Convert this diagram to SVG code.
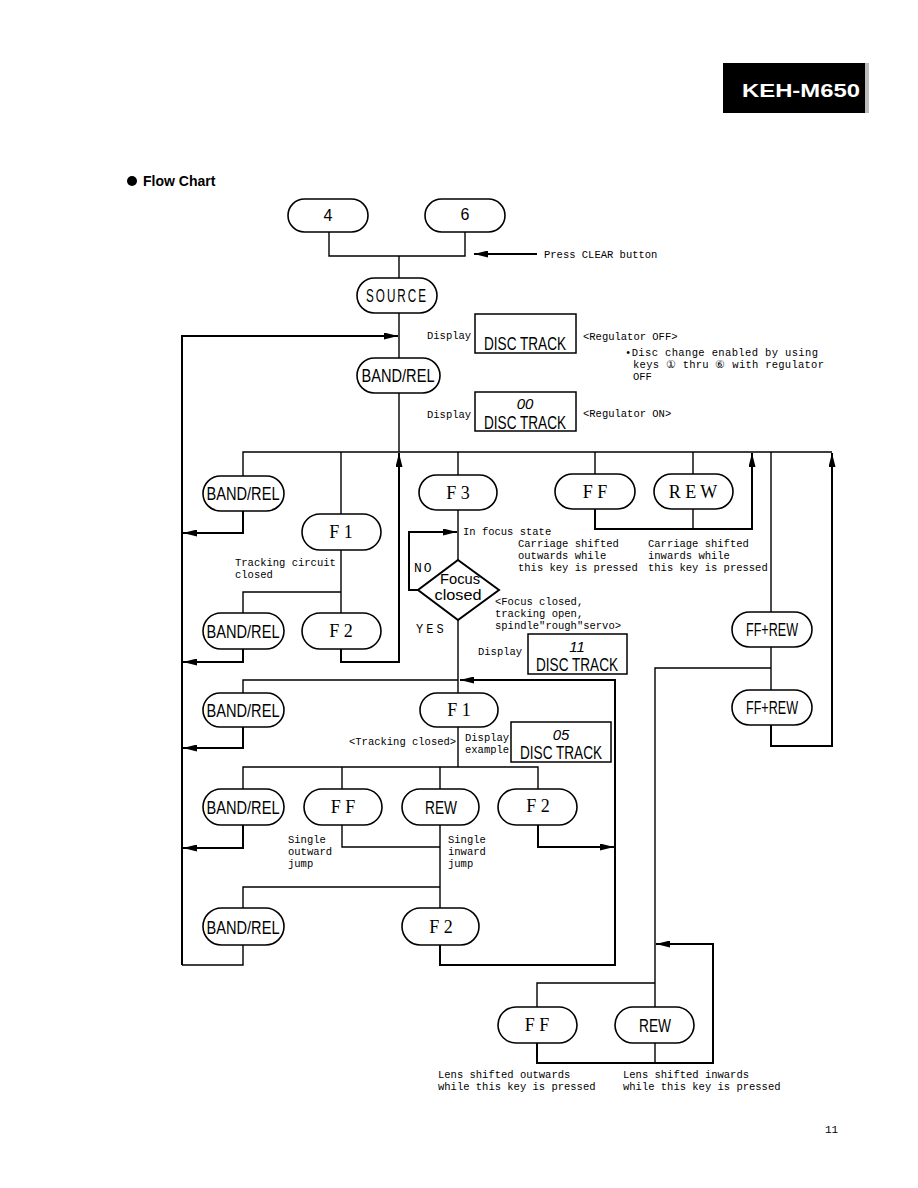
<svg xmlns="http://www.w3.org/2000/svg" width="918" height="1188" viewBox="0 0 918 1188">
<style>
.n{fill:#fff;stroke:#000;stroke-width:1.6}
.b{fill:#fff;stroke:#000;stroke-width:1.5}
.c{fill:none;stroke:#000;stroke-width:1.4}
.a{fill:none;stroke:#000;stroke-width:2;marker-end:url(#ah)}
.s{font-family:"Liberation Serif",serif;font-size:18px;text-anchor:middle}
.k{font-family:"Liberation Sans",sans-serif;font-size:16px;text-anchor:middle}
.m{font-family:"Liberation Mono",monospace;font-size:10.5px}
.d{font-family:"Liberation Sans",sans-serif;font-size:17.5px;text-anchor:middle}
.f{font-family:"Liberation Sans",sans-serif;font-size:15px;text-anchor:middle}
.i{font-family:"Liberation Sans",sans-serif;font-size:15px;font-style:italic;text-anchor:middle}
</style>
<defs>
<marker id="ah" viewBox="0 0 14 7" refX="14" refY="3.5" markerWidth="14" markerHeight="7" markerUnits="userSpaceOnUse" orient="auto"><path d="M0,0 L14,3.5 L0,7 z" fill="#000"/></marker>
</defs>
<rect width="918" height="1188" fill="#fff"/>
<g id="header">
<rect x="723" y="63" width="145" height="50" fill="#000"/>
<rect x="865" y="63" width="4" height="50" fill="#bbb"/>
<text x="801" y="97" fill="#fff" font-family="Liberation Sans,sans-serif" font-weight="bold" font-size="19" text-anchor="middle" textLength="118" lengthAdjust="spacingAndGlyphs">KEH-M650</text>
</g>
<g id="title">
<circle cx="132" cy="181" r="5" fill="#000"/>
<text x="143" y="186" font-family="Liberation Sans,sans-serif" font-weight="bold" font-size="14">Flow Chart</text>
</g>
<g id="connectors">
<path class="c" d="M329,232 V256 H465 V232 M399,256 V278"/>
<path class="a" d="M537,254 H474"/>
<path class="c" d="M399,313 V358 M399,393 V452"/>
<path class="a" d="M182,965 V336 H398"/>
<path class="a" d="M341,649 V662 H399 V453"/>
<path class="c" d="M243,476 V452 H832 M341,452 V514 M458,452 V475 M595,452 V474 M693,452 V474 M771,452 V612"/>
<path class="a" d="M595,509 V529 H752 V453"/>
<path class="c" d="M693,509 V529"/>
<path class="c" d="M458,510 V560 M458,620 V693"/>
<path class="a" d="M419,590 H409 V532 H457"/>
<path class="c" d="M341,550 V613 M243,613 V592 H341"/>
<path class="a" d="M243,511 V533 H183"/>
<path class="a" d="M243,649 V662 H183"/>
<path class="c" d="M243,693 V680 H458"/>
<path class="a" d="M440,945 V965 H615 V680 H460"/>
<path class="a" d="M243,727 V748 H183"/>
<path class="c" d="M458,727 V767 M243,789 V767 H538 V789 M342,767 V789 M440,767 V789"/>
<path class="a" d="M243,825 V848 H183"/>
<path class="c" d="M342,825 V847 H440 M440,825 V908 M243,908 V887 H440"/>
<path class="c" d="M243,945 V965 H182"/>
<path class="a" d="M538,825 V847 H614"/>
<path class="c" d="M771,647 V690"/>
<path class="a" d="M771,725 V746 H832 V453"/>
<path class="c" d="M771,668 H655 V1007 M537,1007 V983 H655 M655,1043 V1063"/>
<path class="a" d="M537,1043 V1063 H713 V944 H656"/>
</g>
<g id="n4"><rect class="n" x="288" y="199" width="80" height="33" rx="16.5"/><text class="k" x="328" y="221">4</text></g>
<g id="n6"><rect class="n" x="425" y="199" width="80" height="33" rx="16.5"/><text class="k" x="465" y="220">6</text></g>
<g id="source"><rect class="n" x="357" y="278" width="80" height="35" rx="17.5"/><text class="d" x="397" y="302" textLength="62" lengthAdjust="spacingAndGlyphs" letter-spacing="3">SOURCE</text></g>
<g id="bandrel1"><rect class="n" x="357" y="358" width="83" height="35" rx="17.5"/><text class="d" x="398" y="382" textLength="73" lengthAdjust="spacingAndGlyphs">BAND/REL</text></g>
<g id="disp1"><rect class="b" x="475" y="314" width="101" height="39"/><text class="d" x="525" y="350" textLength="82" lengthAdjust="spacingAndGlyphs">DISC TRACK</text></g>
<g id="disp2"><rect class="b" x="475" y="392" width="101" height="39"/><text class="i" x="525" y="409">00</text><text class="d" x="525" y="429" textLength="82" lengthAdjust="spacingAndGlyphs">DISC TRACK</text></g>
<g id="bandrel2"><rect class="n" x="203" y="476" width="81" height="35" rx="17.5"/><text class="d" x="243" y="500" textLength="73" lengthAdjust="spacingAndGlyphs">BAND/REL</text></g>
<g id="f1a"><rect class="n" x="302" y="514" width="79" height="36" rx="18"/><text class="s" x="341" y="538">F 1</text></g>
<g id="f3"><rect class="n" x="419" y="475" width="78" height="35" rx="17.5"/><text class="s" x="458" y="499">F 3</text></g>
<g id="ff1"><rect class="n" x="555" y="474" width="80" height="35" rx="17.5"/><text class="s" x="595" y="498">F F</text></g>
<g id="rew1"><rect class="n" x="654" y="474" width="79" height="35" rx="17.5"/><text class="s" x="693" y="498">R E W</text></g>
<g id="focus"><polygon points="458,560 499,590 458,620 418,590" fill="#fff" stroke="#000" stroke-width="2"/><text class="f" x="460" y="584" textLength="40" lengthAdjust="spacingAndGlyphs">Focus</text><text class="f" x="458" y="600" textLength="47" lengthAdjust="spacingAndGlyphs">closed</text></g>
<g id="bandrel3"><rect class="n" x="203" y="613" width="81" height="36" rx="18"/><text class="d" x="243" y="638" textLength="73" lengthAdjust="spacingAndGlyphs">BAND/REL</text></g>
<g id="f2a"><rect class="n" x="302" y="613" width="79" height="36" rx="18"/><text class="s" x="341" y="637">F 2</text></g>
<g id="ffrew1"><rect class="n" x="732" y="612" width="80" height="35" rx="17.5"/><text class="d" x="772" y="636" textLength="52" lengthAdjust="spacingAndGlyphs">FF+REW</text></g>
<g id="ffrew2"><rect class="n" x="732" y="690" width="80" height="35" rx="17.5"/><text class="d" x="772" y="714" textLength="52" lengthAdjust="spacingAndGlyphs">FF+REW</text></g>
<g id="disp3"><rect class="b" x="528" y="634" width="99" height="40"/><text class="i" x="577" y="652">11</text><text class="d" x="577" y="671" textLength="82" lengthAdjust="spacingAndGlyphs">DISC TRACK</text></g>
<g id="bandrel4"><rect class="n" x="203" y="693" width="81" height="34" rx="17"/><text class="d" x="243" y="717" textLength="73" lengthAdjust="spacingAndGlyphs">BAND/REL</text></g>
<g id="f1b"><rect class="n" x="420" y="693" width="78" height="34" rx="17"/><text class="s" x="459" y="716">F 1</text></g>
<g id="disp4"><rect class="b" x="511" y="722" width="100" height="40"/><text class="i" x="561" y="740">05</text><text class="d" x="561" y="759" textLength="82" lengthAdjust="spacingAndGlyphs">DISC TRACK</text></g>
<g id="bandrel5"><rect class="n" x="203" y="789" width="81" height="36" rx="18"/><text class="d" x="243" y="814" textLength="73" lengthAdjust="spacingAndGlyphs">BAND/REL</text></g>
<g id="ff2"><rect class="n" x="304" y="789" width="78" height="36" rx="18"/><text class="s" x="343" y="813">F F</text></g>
<g id="rew2"><rect class="n" x="402" y="789" width="77" height="36" rx="18"/><text class="d" x="441" y="814" textLength="32" lengthAdjust="spacingAndGlyphs">REW</text></g>
<g id="f2b"><rect class="n" x="498" y="789" width="79" height="36" rx="18"/><text class="s" x="538" y="812">F 2</text></g>
<g id="bandrel6"><rect class="n" x="203" y="908" width="81" height="37" rx="18.5"/><text class="d" x="243" y="934" textLength="73" lengthAdjust="spacingAndGlyphs">BAND/REL</text></g>
<g id="f2c"><rect class="n" x="402" y="908" width="77" height="37" rx="18.5"/><text class="s" x="441" y="933">F 2</text></g>
<g id="ff3"><rect class="n" x="498" y="1007" width="79" height="36" rx="18"/><text class="s" x="537" y="1031">F F</text></g>
<g id="rew3"><rect class="n" x="615" y="1007" width="79" height="36" rx="18"/><text class="d" x="655" y="1032" textLength="32" lengthAdjust="spacingAndGlyphs">REW</text></g>
<g id="labels" class="m">
<text x="544" y="258">Press CLEAR button</text>
<text x="427" y="339">Display</text>
<text x="583" y="340">&lt;Regulator OFF&gt;</text>
<text x="625" y="356" textLength="193">•Disc change enabled by using</text>
<text x="633" y="368" textLength="191">keys ① thru ⑥ with regulator</text>
<text x="633" y="380">OFF</text>
<text x="427" y="418">Display</text>
<text x="583" y="417">&lt;Regulator ON&gt;</text>
<text x="463" y="535">In focus state</text>
<text x="518" y="547">Carriage shifted</text>
<text x="518" y="559">outwards while</text>
<text x="518" y="571">this key is pressed</text>
<text x="648" y="547">Carriage shifted</text>
<text x="648" y="559">inwards while</text>
<text x="648" y="571">this key is pressed</text>
<text x="235" y="566">Tracking circuit</text>
<text x="235" y="578">closed</text>
<text x="414" y="572" font-size="13" letter-spacing="2">NO</text>
<text x="416" y="633" font-size="12" letter-spacing="3">YES</text>
<text x="495" y="605">&lt;Focus closed,</text>
<text x="495" y="617">tracking open,</text>
<text x="495" y="629">spindle"rough"servo&gt;</text>
<text x="478" y="655">Display</text>
<text x="349" y="745">&lt;Tracking closed&gt;</text>
<text x="465" y="741">Display</text>
<text x="465" y="753">example</text>
<text x="288" y="843">Single</text>
<text x="288" y="855">outward</text>
<text x="288" y="867">jump</text>
<text x="448" y="843">Single</text>
<text x="448" y="855">inward</text>
<text x="448" y="867">jump</text>
<text x="438" y="1078">Lens shifted outwards</text>
<text x="438" y="1090">while this key is pressed</text>
<text x="623" y="1078">Lens shifted inwards</text>
<text x="623" y="1090">while this key is pressed</text>
<text x="825" y="1133" font-size="11">11</text>
</g>
</svg>
